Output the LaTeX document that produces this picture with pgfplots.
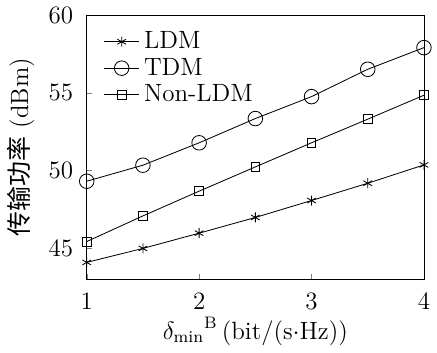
\documentclass[border=0pt]{standalone}
\usepackage{pgfplots}
\pgfplotsset{compat=1.18}
\usepackage{fontspec}
\newfontfamily\cjk{Noto Sans CJK SC}
\begin{document}
\begin{tikzpicture}
\begin{axis}[
  scale only axis,
  width=162pt, height=127pt,
  xmin=1, xmax=4, ymin=43, ymax=60,
  xtick={1,2,3,4}, ytick={45,50,55,60},
  tick align=inside, xtick pos=bottom, ytick pos=left,
  major tick length=2.5pt,
  tick label style={font=\fontsize{12}{14}\selectfont},
  label style={font=\fontsize{12}{14}\selectfont},
  xticklabel style={yshift=-3pt},
  yticklabel style={xshift=-3pt},
  xlabel={${\delta_{\min}}^{\mathrm{B}}\,$(bit/(s$\cdot$Hz))},
  ylabel={{\cjk 传输功率} (dBm)},
  xlabel style={yshift=3pt},
  ylabel style={yshift=0pt},
  legend style={at={(0.03,0.97)}, anchor=north west, draw=none, fill=none, row sep=-1pt, font=\fontsize{12}{14}\selectfont},
  legend cell align=left,
  every axis plot/.append style={black, thin},
]
\addplot[mark=asterisk, mark size=2.4pt] coordinates {(1,44.09)(1.5,44.99)(2,45.97)(2.5,46.98)(3,48.07)(3.5,49.18)(4,50.36)};
\addlegendentry{LDM}
\addplot[mark=o, mark size=3.5pt] coordinates {(1,49.31)(1.5,50.34)(2,51.78)(2.5,53.34)(3,54.75)(3.5,56.51)(4,57.9)};
\addlegendentry{TDM}
\addplot[mark=square, mark size=2.1pt] coordinates {(1,45.43)(1.5,47.08)(2,48.67)(2.5,50.23)(3,51.78)(3.5,53.3)(4,54.84)};
\addlegendentry{Non-LDM}
\end{axis}
\end{tikzpicture}
\end{document}
